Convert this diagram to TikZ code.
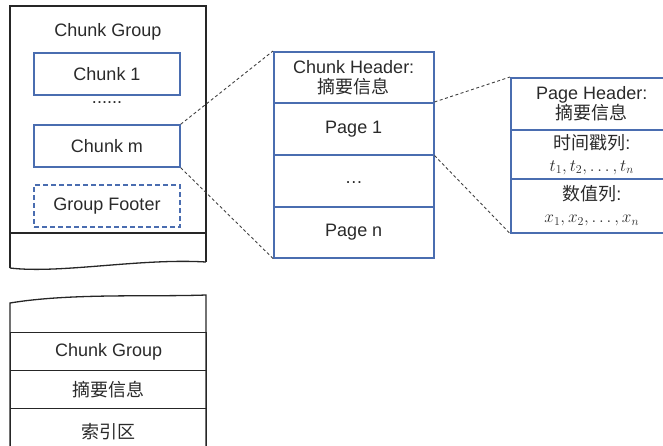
\documentclass[tikz,border=0pt]{standalone}
\usepackage{fontspec}
\setmainfont{Liberation Sans}
\newfontfamily\cjk{Noto Sans CJK SC}
\begin{document}
\begin{tikzpicture}[x=1pt,y=-1pt,
  lbl/.style={text=tgray,font=\fontsize{18}{21}\selectfont,inner sep=0pt,align=center},
  bcell/.style={draw=bblue,line width=1.5pt,minimum width=160pt,inner sep=0pt,anchor=north west,lbl},
  kcell/.style={draw=black!85,line width=1.3pt,minimum width=196pt,minimum height=38pt,inner sep=0pt,anchor=north west,lbl},
  cbox/.style={draw=bblue,line width=1.5pt,minimum width=146pt,minimum height=42pt,inner sep=0pt,lbl},
  link/.style={draw=black!75,line width=0.9pt,dash pattern=on 3pt off 2.5pt}]
\definecolor{bblue}{HTML}{4A6DB0}
\definecolor{tgray}{HTML}{2A2A2A}
\useasboundingbox (0,0) rectangle (663,445);
\begin{scope}
\clip (0,0) rectangle (663,445);
% top-left chunk group block
\draw[draw=black!85,line width=1.3pt] (10,268) -- (10,6) -- (206,6) -- (206,262);
\draw[draw=black!85,line width=1.3pt] (10,268) .. controls (60,274) and (140,258) .. (206,262);
\draw[draw=black!85,line width=1.3pt] (10,233) -- (206,233);
\node[lbl] (title) at (108,32) {Chunk Group};
\node[cbox] (c1) at (107,74) {Chunk 1};
\node[lbl,anchor=base] (cdots) at (107,103) {......};
\node[cbox] (cm) at (107,146) {Chunk m};
\node[cbox,dash pattern=on 5pt off 3pt] (gf) at (107,206) {Group Footer};
% bottom-left block
\draw[draw=black!85,line width=1.3pt] (10,450) -- (10,303) .. controls (70,293) and (150,297) .. (206,295) -- (206,450);
\node[kcell] (bcg) at (10,332) {Chunk Group};
\node[kcell] (bsum) at (10,370) {{\cjk 摘要信息}};
\node[kcell,minimum height=45pt] (bidx) at (10,408) {{\cjk 索引区}};
% middle chunk block
\node[bcell,minimum height=51pt] (mh) at (273,51) {Chunk Header:\\[-1pt]{\cjk 摘要信息}};
\node[bcell,minimum height=52pt] (p1) at (273,102) {Page 1};
\node[bcell,minimum height=52pt] (pd) at (273,154) {\raisebox{-6pt}{…}};
\node[bcell,minimum height=51pt] (pn) at (273,206) {Page n};
% right page block
\node[bcell,minimum width=162pt,minimum height=52pt] (rh) at (510,77) {Page Header:\\[-1pt]{\cjk 摘要信息}};
\node[bcell,minimum width=162pt,minimum height=49pt] (rt) at (510,129) {{\cjk 时间戳列}:\\[1pt]$t_1, t_2, \ldots, t_n$};
\node[bcell,minimum width=162pt,minimum height=54pt] (rv) at (510,178) {{\cjk 数值列}:\\[1pt]$x_1, x_2, \ldots, x_n$};
% connectors
\draw[link] (cm.north east) -- (mh.north west);
\draw[link] (cm.south east) -- (pn.south west);
\draw[link] (p1.north east) -- (rh.north west);
\draw[link] (p1.south east) -- (rv.south west);
\end{scope}
\end{tikzpicture}
\end{document}
